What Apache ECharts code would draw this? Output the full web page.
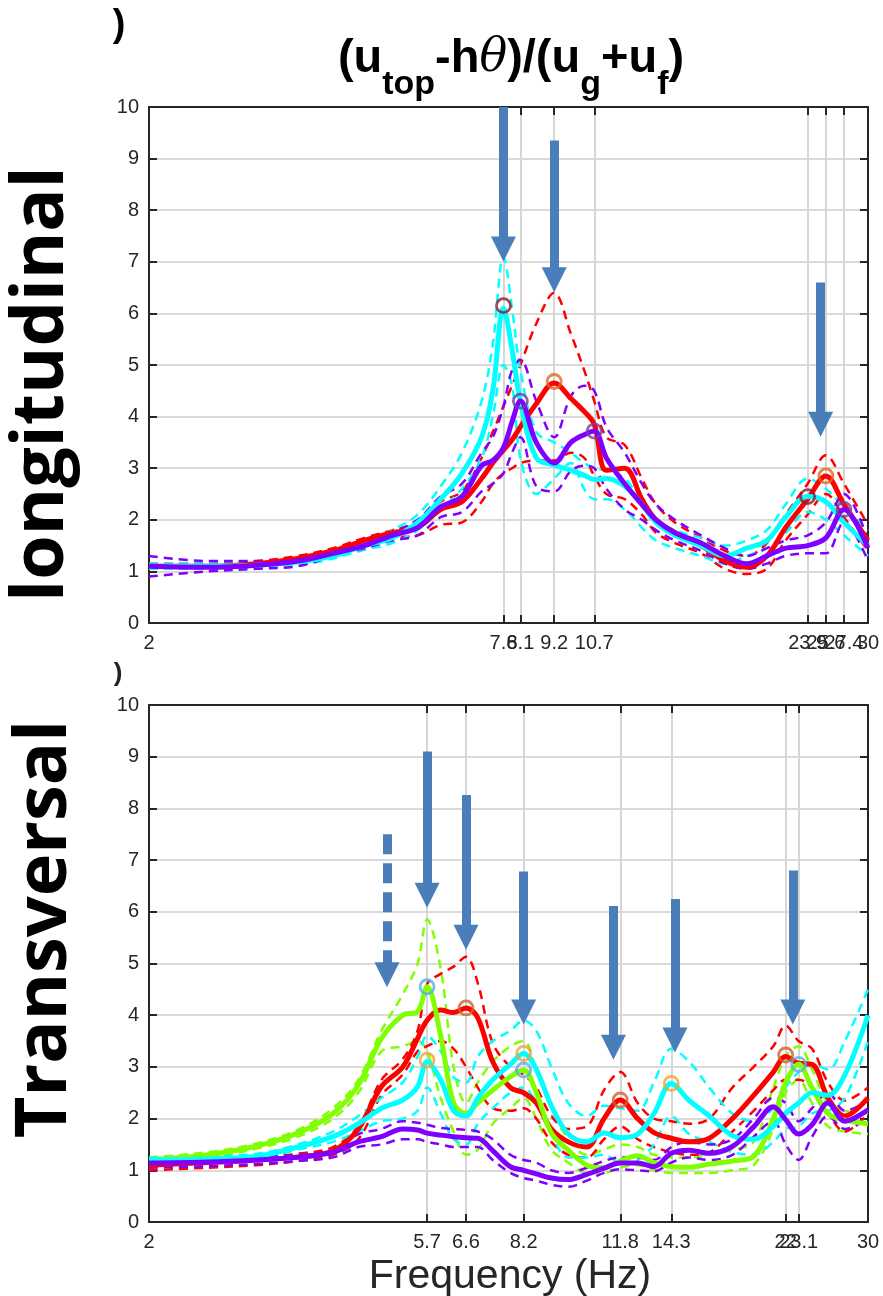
<!DOCTYPE html>
<html><head><meta charset="utf-8">
<script src="https://cdn.jsdelivr.net/npm/echarts@6/dist/echarts.min.js"></script>
<style>html,body{margin:0;padding:0;background:#fff}#c{width:883px;height:1296px}</style>
</head><body><div id="c"></div>
<script>
// ---------- Longitudinal panel data ----------
const freqT = [2,2.5,3,3.5,4,4.5,5,5.5,6,6.5, 7,7.3,7.6,7.85,8.1,8.6,9.2,9.8,10.3,10.7, 11.2,12,12.8,13.5,14.5,16,17.5,19,20.5,22, 23.9,25.6,27.4,30];
const cyanT  = [1.1,1.1,1.12,1.18,1.3,1.5,1.65,1.95,2.4,2.9, 3.6,4.5,6.1,5.3,4.3,3.2,3.06,2.96,2.86,2.78, 2.8,2.65,2.3,1.95,1.7,1.5,1.3,1.45,1.6,2.05, 2.45,2.35,1.95,1.5];
const cyanTU = [1.15,1.15,1.15,1.2,1.35,1.55,1.8,2.1,2.65,3.3, 4.3,5.4,7.1,6.1,4.9,3.7,3.5,3.3,3.1,3.0, 2.95,2.8,2.35,2.0,1.8,1.65,1.5,1.6,1.8,2.3, 2.8,2.6,2.25,1.8];
const cyanTL = [1.05,1.05,1.08,1.12,1.25,1.42,1.55,1.8,2.2,2.6, 3.2,4.0,5.0,4.6,3.2,2.5,2.8,3.1,2.6,2.4, 2.4,2.2,1.85,1.6,1.45,1.3,1.15,1.3,1.45,1.75, 2.15,2.0,1.7,1.3];
const redT   = [1.1,1.1,1.15,1.25,1.4,1.6,1.75,1.85,2.2,2.35, 2.8,3.1,3.35,3.55,3.8,4.25,4.65,4.35,4.1,3.85, 2.96,3.0,2.4,2.0,1.75,1.5,1.2,1.08,1.3,1.85, 2.4,2.85,2.3,1.6];
const redTU  = [1.15,1.15,1.2,1.3,1.45,1.65,1.8,1.95,2.35,2.55, 3.2,3.7,4.2,4.6,5.0,5.8,6.4,5.6,4.9,4.3, 3.6,3.45,2.8,2.3,1.95,1.65,1.4,1.3,1.55,2.1, 2.7,3.25,2.7,1.9];
const redTL  = [1.05,1.05,1.1,1.2,1.35,1.5,1.65,1.7,1.9,1.95, 2.35,2.7,2.9,3.0,3.1,3.15,3.15,3.3,3.2,2.85, 2.5,2.4,2.1,1.75,1.55,1.35,1.05,0.95,1.05,1.6, 2.1,2.5,2.05,1.4];
const violT  = [1.1,1.08,1.12,1.2,1.35,1.5,1.7,1.85,2.25,2.45, 3.05,3.15,3.4,3.9,4.3,3.5,3.1,3.5,3.65,3.72, 3.2,2.7,2.3,2.0,1.75,1.55,1.3,1.15,1.3,1.45, 1.5,1.65,2.2,1.45];
const violTU = [1.3,1.2,1.2,1.25,1.4,1.55,1.75,2.0,2.45,2.7, 3.3,3.6,4.2,4.9,5.1,4.3,3.6,4.4,4.6,4.5, 3.8,3.3,2.7,2.3,2.0,1.7,1.45,1.3,1.45,1.6, 1.7,1.95,2.5,1.6];
const violTL = [0.9,1.0,1.05,1.1,1.3,1.45,1.6,1.7,2.05,2.15, 2.55,2.7,2.9,3.3,3.6,2.65,2.55,2.95,3.05,3.0, 2.6,2.2,2.0,1.8,1.6,1.4,1.15,1.05,1.15,1.3, 1.35,1.35,1.95,1.2];
const ticksT  = [2,7.6,8.1,9.2,10.7,23.9,27.4,25.6,30];
const markT   = [[7.6,6.15,'maroon'],[8.1,4.3,'plum'],[9.2,4.68,'orange'],[10.7,3.72,'plum'],[23.9,2.45,'maroon'],[25.6,2.85,'orange'],[27.4,2.2,'plum']];
const arrowsT = [[7.6,10,7.0],[9.2,9.35,6.4],[25.1,6.6,3.6]];

// ---------- Transversal panel data ----------
const freqB = [2,2.5,3,3.5,4,4.4,4.8,5.2,5.5,5.7, 6.0,6.3,6.6,6.9,7.3,7.8,8.2,8.6,9.1,9.7, 10.4,11.1,11.8,12.6,13.4,14.3,15.3,16.5,18,19.5, 21,22,23.1,24.3,25.8,27.5,30];
const greenB  = [1.2,1.3,1.47,1.72,2.1,2.65,3.55,4.0,4.07,4.55, 3.6,2.3,2.1,2.3,2.55,2.81,2.94,2.5,1.72,1.39, 1.1,1.05,1.18,1.28,1.15,1.07,1.06,1.12,1.18,1.27, 2.0,2.7,3.05,2.6,2.1,1.97,1.9];
const greenBU = [1.25,1.35,1.52,1.78,2.2,2.75,3.7,4.4,5.0,5.85, 4.9,3.0,2.3,2.7,3.1,3.4,3.5,2.95,2.2,1.6, 1.3,1.4,1.5,1.45,1.3,1.25,1.25,1.3,1.4,1.55, 2.6,3.2,3.4,2.95,2.3,2.15,2.1];
const greenBL = [1.15,1.25,1.42,1.65,2.0,2.5,3.3,3.4,3.5,3.3, 2.4,1.75,1.3,1.4,1.9,2.2,2.4,2.0,1.4,1.15, 0.95,0.95,1.05,1.1,1.0,0.95,0.95,0.95,1.0,1.1, 1.8,2.5,2.75,2.3,1.85,1.75,1.7];
const redB    = [1.1,1.15,1.2,1.26,1.38,1.8,2.62,3.0,3.55,3.9, 4.1,4.05,4.14,3.95,3.1,2.6,2.5,2.3,1.8,1.55, 1.45,2.0,2.36,2.0,1.73,1.62,1.55,1.62,2.0,2.45, 2.9,3.2,3.07,3.05,2.4,2.05,2.4];
const redBU   = [1.15,1.2,1.25,1.32,1.45,1.85,2.75,3.15,3.7,4.6, 4.8,4.94,5.13,4.62,3.46,3.0,2.85,2.6,2.05,1.8, 1.85,2.55,2.9,2.3,2.0,1.95,1.9,2.0,2.6,3.0, 3.4,3.8,3.5,3.35,2.7,2.35,2.6];
const redBL   = [1.0,1.05,1.1,1.18,1.3,1.6,2.45,2.85,3.3,3.4, 3.5,3.35,3.0,2.6,2.2,2.15,2.2,2.0,1.55,1.3, 1.25,1.6,1.85,1.6,1.45,1.35,1.3,1.35,1.75,2.15, 2.55,2.75,2.75,2.6,2.1,1.75,2.1];
const cyanB   = [1.2,1.22,1.27,1.45,1.65,1.9,2.2,2.36,2.62,3.1, 2.75,2.15,2.05,2.4,2.75,3.05,3.26,2.95,2.25,1.7, 1.55,1.72,1.63,1.7,2.1,2.68,2.35,2.05,1.67,1.6, 1.85,2.1,2.3,2.5,2.45,2.85,4.0];
const cyanBU  = [1.25,1.27,1.32,1.5,1.75,2.05,2.4,2.7,3.2,3.6, 3.3,2.8,2.7,3.2,3.5,3.7,3.9,3.7,3.0,2.3, 2.05,2.25,2.2,2.15,2.7,3.35,3.1,2.6,2.1,1.95, 2.2,2.6,2.9,3.05,2.95,3.5,4.5];
const cyanBL  = [1.15,1.17,1.22,1.4,1.55,1.75,1.95,2.0,2.15,2.6, 2.1,1.6,1.5,1.9,2.2,2.5,2.6,2.3,1.7,1.25, 1.25,1.3,1.15,1.2,1.5,2.05,1.7,1.55,1.35,1.3, 1.55,1.8,1.85,2.1,2.15,2.4,3.5];
const violB   = [1.14,1.16,1.2,1.25,1.35,1.55,1.65,1.8,1.78,1.72, 1.68,1.65,1.63,1.62,1.38,1.07,1.0,0.93,0.85,0.82, 0.92,1.04,1.14,1.14,1.07,1.33,1.39,1.33,1.46,1.84, 2.23,1.98,1.7,1.88,2.3,1.95,2.17];
const violBU  = [1.2,1.22,1.25,1.3,1.4,1.7,1.8,1.95,1.92,1.88, 1.82,1.8,1.78,1.75,1.6,1.3,1.2,1.15,1.0,0.95, 1.05,1.18,1.25,1.25,1.2,1.45,1.55,1.5,1.6,2.0, 2.4,2.3,1.95,2.2,2.5,2.15,2.35];
const violBL  = [1.05,1.08,1.12,1.18,1.25,1.45,1.5,1.6,1.6,1.55, 1.5,1.45,1.45,1.45,1.2,0.95,0.85,0.8,0.72,0.68, 0.8,0.95,1.02,1.0,0.98,1.15,1.25,1.2,1.3,1.65, 1.95,1.5,1.2,1.65,2.05,1.8,2.0];
const ticksB  = [2,5.7,6.6,8.2,11.8,14.3,22,23.1,30];
const markB   = [[5.7,4.55,'sky'],[5.7,3.13,'amber'],[6.6,4.14,'rust'],[8.2,3.26,'amber'],[8.2,2.94,'sky'],[11.8,2.36,'rust'],[14.3,2.68,'amber'],[22,3.23,'rust'],[23.1,3.05,'sky']];
const arrowsB = [[5.7,9.1,6.07],[6.6,8.26,5.26],[8.2,6.78,3.81],[11.5,6.11,3.13],[14.5,6.25,3.27],[22.6,6.8,3.81]];
const arrowsBDashed = [[4.9,7.5,4.53]];

// ---------- styles ----------
const COL = {cyan:'#00ffff', red:'#ff0000', viol:'#8000ff', green:'#80ff00'};
const MARKCOL = {maroon:'#8e1b2e', plum:'#7a3c9c', orange:'#e0661f', sky:'#5aaee6', amber:'#f0a43a', rust:'#d2602c'};
const ARROW = '#4a7ebb';
const HEAD = 0.25;
const TXT = '#262626';
const tickFont = '"Liberation Sans",sans-serif';

function lineS(xs, ys, color, solid, xi, yi, z){
  return {type:'line', xAxisIndex:xi, yAxisIndex:yi, data: xs.map((x,i)=>[x, ys[i]]),
    smooth:0.35, symbol:'none', silent:true, z:z,
    lineStyle: solid ? {color:color, width:5} : {color:color, width:2.5, type:[9,6]}};
}
function markS(list, xi, yi){
  return {type:'scatter', xAxisIndex:xi, yAxisIndex:yi, z:20, silent:true,
    data: list.map(m=>({value:[m[0],m[1]], itemStyle:{color:'rgba(0,0,0,0)', borderColor:MARKCOL[m[2]], borderWidth:2.8}})),
    symbol:'circle', symbolSize:14};
}
function arrowS(list, xi, yi, dashed){
  return {type:'line', xAxisIndex:xi, yAxisIndex:yi, data:[], z:30, silent:true,
    markLine:{silent:true, animation:false, symbol:['none','triangle'], symbolSize:25,
      label:{show:false}, emphasis:{disabled:true},
      itemStyle:{color:ARROW},
      lineStyle:{color:ARROW, width:9, type: dashed ? [20,9] : 'solid', opacity:1},
      data: list.map(a=>[{coord:[a[0],a[1]]},{coord:[a[0],a[2]+HEAD]}])}};
}
function xAx(gi, ticks, pos, showLabel){
  const lbl = {};
  ticks.forEach(t=>{lbl[t]=String(t);});
  return {type:'log', logBase:10, gridIndex:gi, min:2, max:30, position:pos,
    axisLine:{show:true, onZero:false, lineStyle:{color:TXT, width:2}},
    axisTick:{show:true, inside:true, length:8, lineStyle:{color:TXT, width:2}, customValues:ticks},
    axisLabel:{show:showLabel, customValues:ticks, margin:10, color:TXT, fontSize:20, fontFamily:tickFont,
      showMinLabel:true, showMaxLabel:true, hideOverlap:false,
      formatter:v=>lbl[v]!==undefined?lbl[v]:String(+v.toFixed(1))},
    splitLine:{show:showLabel, lineStyle:{color:'#d6d6d6', width:2}},
    minorTick:{show:false}, minorSplitLine:{show:false}};
}
function yAx(gi, pos, showLabel){
  return {type:'value', gridIndex:gi, min:0, max:10, interval:1, position:pos,
    axisLine:{show:true, onZero:false, lineStyle:{color:TXT, width:2}},
    axisTick:{show:true, inside:true, length:8, lineStyle:{color:TXT, width:2}},
    axisLabel:{show:showLabel, margin:10, color:TXT, fontSize:20, fontFamily:tickFont},
    splitLine:{show:showLabel, lineStyle:{color:'#dadada', width:2}}};
}

const series = [
  lineS(freqT, redTU, COL.red, false, 0, 0, 2), lineS(freqT, redTL, COL.red, false, 0, 0, 2),
  lineS(freqT, cyanTU, COL.cyan, false, 0, 0, 2), lineS(freqT, cyanTL, COL.cyan, false, 0, 0, 2),
  lineS(freqT, violTU, COL.viol, false, 0, 0, 2), lineS(freqT, violTL, COL.viol, false, 0, 0, 2),
  lineS(freqT, redT, COL.red, true, 0, 0, 3),
  lineS(freqT, cyanT, COL.cyan, true, 0, 0, 4),
  lineS(freqT, violT, COL.viol, true, 0, 0, 5),
  markS(markT, 0, 0),
  arrowS(arrowsT, 0, 0, false),
  lineS(freqB, greenBU, COL.green, false, 2, 2, 2), lineS(freqB, greenBL, COL.green, false, 2, 2, 2),
  lineS(freqB, redBU, COL.red, false, 2, 2, 2), lineS(freqB, redBL, COL.red, false, 2, 2, 2),
  lineS(freqB, cyanBU, COL.cyan, false, 2, 2, 2), lineS(freqB, cyanBL, COL.cyan, false, 2, 2, 2),
  lineS(freqB, violBU, COL.viol, false, 2, 2, 2), lineS(freqB, violBL, COL.viol, false, 2, 2, 2),
  lineS(freqB, redB, COL.red, true, 2, 2, 3),
  lineS(freqB, greenB, COL.green, true, 2, 2, 4),
  lineS(freqB, cyanB, COL.cyan, true, 2, 2, 5),
  lineS(freqB, violB, COL.viol, true, 2, 2, 6),
  markS(markB, 2, 2),
  arrowS(arrowsB, 2, 2, false),
  arrowS(arrowsBDashed, 2, 2, true)
];

const chart = echarts.init(document.getElementById('c'), null, {renderer:'canvas'});
chart.setOption({
  animation:false,
  backgroundColor:'#ffffff',
  grid:[
    {left:149, top:107, width:719, height:516, containLabel:false},
    {left:149, top:705, width:719, height:517, containLabel:false}
  ],
  xAxis:[ xAx(0, ticksT, 'bottom', true), xAx(0, ticksT, 'top', false),
          xAx(1, ticksB, 'bottom', true), xAx(1, ticksB, 'top', false) ],
  yAxis:[ yAx(0, 'left', true), yAx(0, 'right', false),
          yAx(1, 'left', true), yAx(1, 'right', false) ],
  series: series,
  graphic:[
    {type:'text', x:511, y:62, z:100, style:{
      text:'{a|(u}{b|top}{a|-h}{c|θ}{a|)/(u}{b|g}{a|+u}{b|f}{a|)}',
      align:'center', verticalAlign:'middle', fill:'#000',
      rich:{
        a:{fontSize:47, fontWeight:'bold', fontFamily:'"Liberation Sans",sans-serif', lineHeight:52, verticalAlign:'top', fill:'#000'},
        b:{fontSize:34, fontWeight:'bold', fontFamily:'"Liberation Sans",sans-serif', lineHeight:36, padding:[32,0,0,0], verticalAlign:'top', fill:'#000'},
        c:{fontSize:46, fontStyle:'italic', fontFamily:'"DejaVu Serif",serif', lineHeight:52, verticalAlign:'top', fill:'#000'}
      }}},
    {type:'text', x:42, y:384, rotation:Math.PI/2, z:100, style:{text:'longitudinal', fill:'#000',
      font:'bold 72px "Open Sans"', align:'center', verticalAlign:'middle'}},
    {type:'text', x:45, y:929, rotation:Math.PI/2, z:100, style:{text:'Transversal', fill:'#000',
      font:'bold 72px "Open Sans"', align:'center', verticalAlign:'middle'}},
    {type:'text', x:119, y:26, z:100, style:{text:')', fill:'#000', font:'bold 38px "Liberation Sans"', align:'center', verticalAlign:'middle'}},
    {type:'text', x:118, y:674, z:100, style:{text:')', fill:'#222', font:'bold 26px "Liberation Sans"', align:'center', verticalAlign:'middle'}},
    {type:'text', x:510, y:1277, z:100, style:{text:'Frequency (Hz)', fill:TXT, font:'41px "Liberation Sans"', align:'center', verticalAlign:'middle'}}
  ]
});
</script></body></html>
